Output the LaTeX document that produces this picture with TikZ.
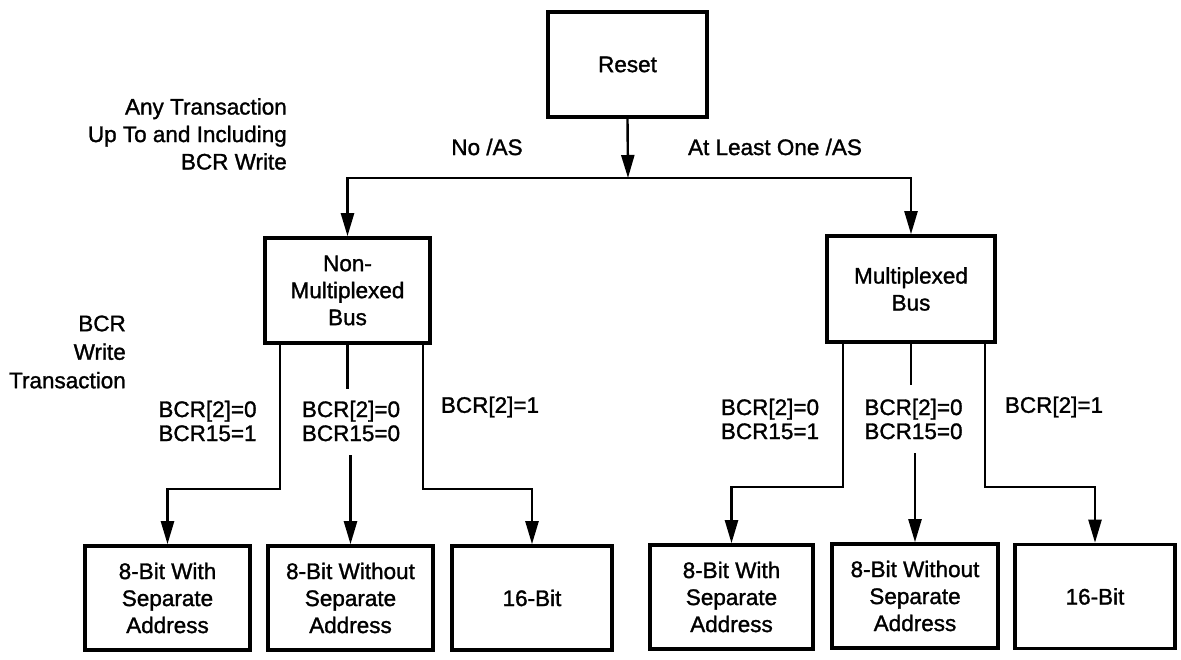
\documentclass[tikz,border=0pt]{standalone}
\usepackage{fontspec}
\setmainfont{Liberation Sans}[FakeBold=1.3]
\usetikzlibrary{arrows.meta,calc}
\begin{document}
\begin{tikzpicture}[x=1pt,y=-1pt,
  box/.style={draw,line width=3.6pt,rectangle,inner sep=0pt,align=center,font=\fontsize{22.5pt}{27pt}\selectfont},
  lbl/.style={inner sep=0pt,font=\fontsize{22.5pt}{27.5pt}\selectfont},
  cond/.style={inner sep=0pt,align=center,font=\fontsize{22.5pt}{24pt}\selectfont},
  conn/.style={line width=2.4pt},
  arr/.style={conn,-{Triangle[width=13pt,length=23pt]}}]
\useasboundingbox (0,0) rectangle (1181,660);
% boxes
\node[box,minimum width=159pt,minimum height=105pt] (reset) at (627.5,64.5) {Reset};
\node[box,minimum width=165pt,minimum height=105pt] (nonmux) at (347.5,290.5) {Non-\\Multiplexed\\Bus};
\node[box,minimum width=168pt,minimum height=106pt] (mux) at (911,289) {Multiplexed\\Bus};
\node[box,minimum width=165pt,minimum height=104pt] (b1) at (167.5,598) {8-Bit With\\Separate\\Address};
\node[box,minimum width=165pt,minimum height=104pt] (b2) at (350.5,598) {8-Bit Without\\Separate\\Address};
\node[box,minimum width=160pt,minimum height=104pt] (b3) at (532,598) {16-Bit};
\node[box,minimum width=163pt,minimum height=104pt] (b4) at (731.5,597) {8-Bit With\\Separate\\Address};
\node[box,minimum width=166pt,minimum height=104pt] (b5) at (915,596) {8-Bit Without\\Separate\\Address};
\node[box,minimum width=160pt,minimum height=104pt] (b6) at (1095,596.5) {16-Bit};
% labels
\node[lbl,align=right,anchor=east] (anytr) at (287,134) {Any Transaction\\Up To and Including\\BCR Write};
\node[lbl] (noas) at (487,147) {No /AS};
\node[lbl] (atleast) at (775,147) {At Least One /AS};
\node[lbl,align=right,anchor=east,font=\fontsize{22.5pt}{28.5pt}\selectfont] (bcrw) at (126,352) {BCR\\Write\\Transaction};
\node[cond] (c1) at (207.5,421) {BCR[2]=0\\BCR15=1};
\node[cond] (c2) at (351,421) {BCR[2]=0\\BCR15=0};
\node[cond] (c3) at (490,407) {BCR[2]=1};
\node[cond] (c4) at (770,419) {BCR[2]=0\\BCR15=1};
\node[cond] (c5) at (913.5,419) {BCR[2]=0\\BCR15=0};
\node[cond] (c6) at (1054,407) {BCR[2]=1};
% connectors
\coordinate (bar) at (628,178);
\draw[arr] (reset.south) -- (bar);
\draw[arr] (bar) -| (nonmux.north);
\draw[arr] (bar) -| (mux.north);
% non-multiplexed branches
\draw[arr] ([xshift=-67.5pt]nonmux.south) -- ++(0,144) -| (b1.north);
\draw[conn] (nonmux.south) -- ++(0,44);
\draw[arr] ($(b2.north)+(0,-89)$) -- (b2.north);
\draw[arr] ([xshift=75.5pt]nonmux.south) -- ++(0,144) -| (b3.north);
% multiplexed branches
\draw[arr] ([xshift=-68pt]mux.south) -- ++(0,143) -| (b4.north);
\draw[conn] (mux.south) -- ++(0,41);
\draw[arr] ($(b5.north)+(0,-89)$) -- (b5.north);
\draw[arr] ([xshift=74pt]mux.south) -- ++(0,143) -| (b6.north);
\end{tikzpicture}
\end{document}
